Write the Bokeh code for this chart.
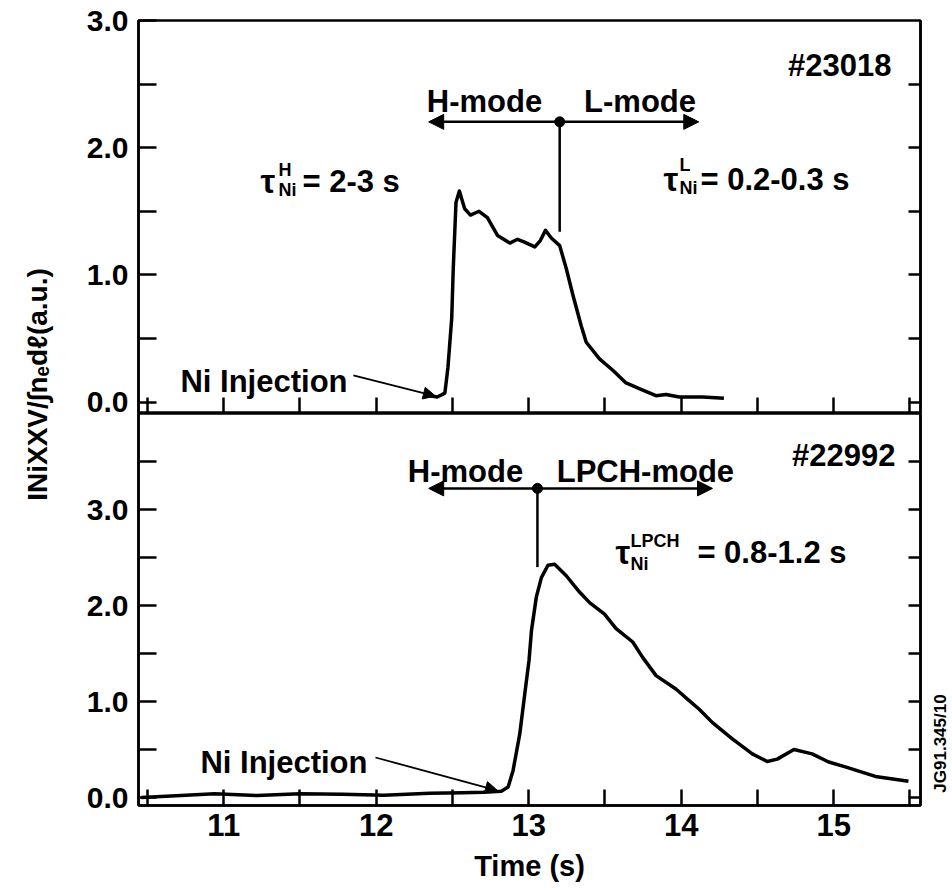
import math
from bokeh.plotting import figure
from bokeh.layouts import row, column
from bokeh.models import (FixedTicker, LinearAxis, Arrow, NormalHead, Label,
                          Range1d, PrintfTickFormatter)
from bokeh.embed import file_html
from bokeh.resources import INLINE

FONT = "Liberation Sans"
WEIGHT = "bold"

# ---------------- data ----------------
# shot #23018 (top panel)
t_23018 = [12.35, 12.40, 12.45, 12.47, 12.495, 12.505, 12.523, 12.545, 12.58, 12.618,
           12.674, 12.729, 12.795, 12.876, 12.926, 12.969, 13.04, 13.076, 13.11, 13.148,
           13.203, 13.246, 13.29, 13.344, 13.377, 13.464, 13.551, 13.638, 13.736, 13.834,
           13.90, 13.987, 14.14, 14.28]
y_23018 = [0.05, 0.04, 0.07, 0.27, 0.66, 1.05, 1.57, 1.66, 1.52, 1.47,
           1.50, 1.45, 1.31, 1.25, 1.28, 1.26, 1.22, 1.27, 1.35, 1.29,
           1.23, 1.05, 0.84, 0.60, 0.47, 0.34, 0.25, 0.15, 0.10, 0.05,
           0.06, 0.04, 0.04, 0.03]

# shot #22992 (bottom panel)
t_22992 = [10.46, 10.72, 10.94, 11.22, 11.50, 11.78, 12.05, 12.35, 12.57, 12.70,
           12.82, 12.865, 12.897, 12.941, 12.974, 13.002, 13.018, 13.05, 13.083, 13.126,
           13.17, 13.246, 13.333, 13.399, 13.497, 13.573, 13.682, 13.747, 13.835, 13.965,
           14.052, 14.118, 14.205, 14.335, 14.466, 14.564, 14.63, 14.739, 14.858, 14.967,
           15.076, 15.273, 15.49]
y_22992 = [0.00, 0.02, 0.04, 0.02, 0.04, 0.035, 0.025, 0.045, 0.05, 0.055,
           0.066, 0.11, 0.28, 0.66, 1.08, 1.43, 1.74, 2.09, 2.29, 2.42,
           2.43, 2.31, 2.14, 2.03, 1.91, 1.76, 1.62, 1.46, 1.27, 1.13,
           1.01, 0.92, 0.78, 0.61, 0.455, 0.375, 0.40, 0.50, 0.455, 0.37,
           0.32, 0.22, 0.17]

# axes
x_major = [11, 12, 13, 14, 15]
x_minor = [10.5, 11.5, 12.5, 13.5, 14.5, 15.5]
top_y_major = [0, 1, 2, 3]
top_y_minor = [0.5, 1.5, 2.5]
bot_y_major = [0, 1, 2, 3]
bot_y_minor = [0.5, 1.5, 2.5, 3.5]
top_right_ticks = [0, 0.5, 1.0, 1.5, 2.0, 2.5]
bot_right_ticks = [0, 0.5, 1.0, 1.5, 2.0, 2.5, 3.0, 3.5]

X_RANGE = (10.441, 15.569)
TOP_Y = (-0.09, 3.0)
BOT_Y = (-0.083, 4.0)

x_title = "Time (s)"
y_title = "INiXXV/∫nₑdℓ(a.u.)"
fig_id = "JG91.345/10"

# annotations (text, mode transitions)
top_shot = "#23018"
bot_shot = "#22992"
top_modes = ["H-mode", "L-mode"]
bot_modes = ["H-mode", "LPCH-mode"]
top_switch_t = 13.203
bot_switch_t = 13.057

LW = 2.5
FRAME_W = 782
TOP_FH, BOT_FH = 393, 392
TOP_BORDER, BOT_BORDER = 20, 86
TOTAL_H = TOP_BORDER + TOP_FH + BOT_FH + BOT_BORDER

xr = Range1d(*X_RANGE)


def hide_labels(ax):
    ax.major_label_text_font_size = "0px"
    ax.major_label_text_color = None
    ax.major_label_standoff = 0


def make_panel(yr, fh, mbt, mbb, ymaj, ymin, rticks, show_labels):
    p = figure(frame_width=FRAME_W, frame_height=fh, x_range=xr, y_range=Range1d(*yr),
               output_backend="svg", toolbar_location=None,
               min_border_left=70, min_border_right=6,
               min_border_top=mbt, min_border_bottom=mbb,
               x_axis_location=None, y_axis_location=None)
    p.grid.visible = False
    p.outline_line_color = "black"
    p.outline_line_width = LW
    p.background_fill_color = "white"
    p.border_fill_color = "white"

    ya = LinearAxis(ticker=FixedTicker(ticks=ymaj, minor_ticks=ymin),
                    formatter=PrintfTickFormatter(format="%.1f"))
    ya.major_tick_in = 18
    ya.major_tick_out = 0
    ya.minor_tick_in = 18
    ya.minor_tick_out = 0
    ya.major_tick_line_width = LW
    ya.minor_tick_line_width = LW
    ya.axis_line_width = LW
    ya.major_label_text_font = FONT
    ya.major_label_text_font_style = WEIGHT
    ya.major_label_text_font_size = "30px"
    ya.major_label_text_color = "black"
    ya.major_label_standoff = 10
    p.add_layout(ya, "left")

    ra = LinearAxis(ticker=FixedTicker(ticks=rticks))
    ra.major_tick_in = 12
    ra.major_tick_out = 0
    ra.minor_tick_line_color = None
    ra.major_tick_line_width = LW
    ra.axis_line_width = LW
    hide_labels(ra)
    p.add_layout(ra, "right")

    xa = LinearAxis(ticker=FixedTicker(ticks=x_major, minor_ticks=x_minor))
    xa.major_tick_in = 16
    xa.major_tick_out = 0
    xa.minor_tick_in = 16
    xa.minor_tick_out = 0
    xa.major_tick_line_width = LW
    xa.minor_tick_line_width = LW
    xa.axis_line_width = LW
    if show_labels:
        xa.major_label_text_font = FONT
        xa.major_label_text_font_style = WEIGHT
        xa.major_label_text_font_size = "31px"
        xa.major_label_text_color = "black"
        xa.major_label_standoff = 8
        xa.axis_label = x_title
        xa.axis_label_text_font = FONT
        xa.axis_label_text_font_style = WEIGHT
        xa.axis_label_text_font_size = "29px"
        xa.axis_label_text_color = "black"
        xa.axis_label_standoff = 11
    else:
        hide_labels(xa)
    p.add_layout(xa, "below")
    return p


def lbl(p, x, y, text, size="31px", align="left", baseline="alphabetic", angle=0.0):
    p.add_layout(Label(x=x, y=y, text=text, text_font=FONT, text_font_size=size,
                       text_font_style=WEIGHT, text_align=align, text_baseline=baseline,
                       text_color="black", angle=angle))


def head():
    return NormalHead(size=15, fill_color="black", line_color="black", line_width=1)


# ---------------- top panel ----------------
top = make_panel(TOP_Y, TOP_FH, TOP_BORDER, 0, top_y_major, top_y_minor, top_right_ticks, False)
top.line(t_23018, y_23018, line_width=3.5, line_color="black", line_join="round")

lbl(top, 15.379, 2.648, top_shot, align="right")
lbl(top, 12.71, 2.36, top_modes[0], align="center")
lbl(top, 13.73, 2.36, top_modes[1], align="center")
top.add_layout(Arrow(start=head(), end=head(), x_start=12.344, y_start=2.203,
                     x_end=14.115, y_end=2.203, line_width=LW, line_color="black"))
top.segment(x0=[top_switch_t], y0=[2.203], x1=[top_switch_t], y1=[1.34],
            line_width=LW, line_color="black")
top.scatter([top_switch_t], [2.203], size=10, color="black")

lbl(top, 11.241, 1.734, "τ", size="33px")
lbl(top, 11.359, 1.828, "H", size="18px")
lbl(top, 11.359, 1.664, "Ni", size="18px")
lbl(top, 11.516, 1.734, "= 2-3 s")

lbl(top, 13.883, 1.75, "τ", size="33px")
lbl(top, 13.988, 1.86, "L", size="18px")
lbl(top, 13.988, 1.68, "Ni", size="18px")
lbl(top, 14.126, 1.75, "= 0.2-0.3 s")

lbl(top, 10.716, 0.164, "Ni Injection")
top.add_layout(Arrow(end=NormalHead(size=12, fill_color="black", line_color="black"),
                     x_start=11.85, y_start=0.21, x_end=12.388, y_end=0.047,
                     line_width=1.8, line_color="black"))

# ---------------- bottom panel ----------------
bot = make_panel(BOT_Y, BOT_FH, 0, BOT_BORDER, bot_y_major, bot_y_minor, bot_right_ticks, True)
bot.line(t_22992, y_22992, line_width=3.5, line_color="black", line_join="round")

lbl(bot, 15.405, 3.5625, bot_shot, align="right")
lbl(bot, 12.585, 3.40, bot_modes[0], align="center")
lbl(bot, 13.765, 3.40, bot_modes[1], align="center")
bot.add_layout(Arrow(start=head(), end=head(), x_start=12.344, y_start=3.22,
                     x_end=14.205, y_end=3.22, line_width=LW, line_color="black"))
bot.segment(x0=[bot_switch_t], y0=[3.22], x1=[bot_switch_t], y1=[2.40],
            line_width=LW, line_color="black")
bot.scatter([bot_switch_t], [3.22], size=10, color="black")

lbl(bot, 13.569, 2.552, "τ", size="33px")
lbl(bot, 13.667, 2.677, "LPCH", size="18px")
lbl(bot, 13.667, 2.4375, "Ni", size="18px")
lbl(bot, 14.106, 2.552, "= 0.8-1.2 s")

lbl(bot, 10.847, 0.365, "Ni Injection")
bot.add_layout(Arrow(end=NormalHead(size=12, fill_color="black", line_color="black"),
                     x_start=11.995, y_start=0.417, x_end=12.795, y_end=0.073,
                     line_width=1.8, line_color="black"))


# ---------------- side strips (y title, figure id) ----------------
def strip(width):
    s = figure(width=width, height=TOTAL_H, x_range=Range1d(0, 1), y_range=Range1d(0, 1),
               output_backend="svg", toolbar_location=None, min_border=0,
               x_axis_location=None, y_axis_location=None)
    s.grid.visible = False
    s.outline_line_color = None
    s.border_fill_color = "white"
    s.background_fill_color = "white"
    return s


lab = strip(68)
lab.add_layout(Label(x=37 / 68, y=1 - 384 / TOTAL_H, text=y_title, text_font=FONT,
                     text_font_size="28px", text_font_style=WEIGHT, text_align="center",
                     text_baseline="middle", angle=math.pi / 2, text_color="black"))

rs = strip(24)
rs.add_layout(Label(x=14 / 24, y=1 - 743 / TOTAL_H, text=fig_id, text_font=FONT,
                    text_font_size="17px", text_font_style=WEIGHT, text_align="center",
                    text_baseline="middle", angle=math.pi / 2, text_color="black"))

layout = row(lab, column(top, bot), rs)
open("out.html", "w").write(file_html(layout, INLINE))
